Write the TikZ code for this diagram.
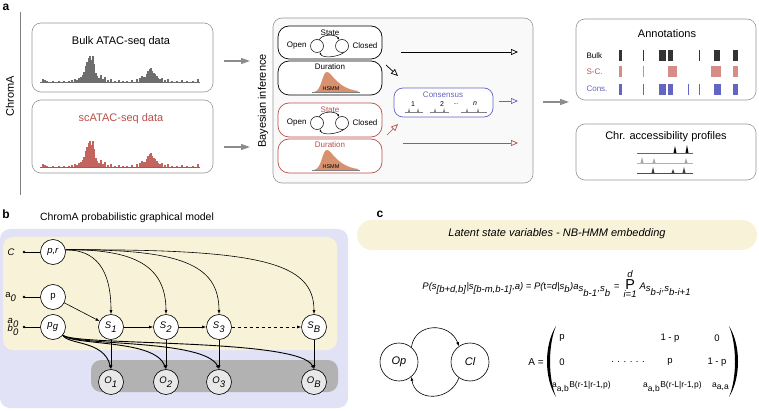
\documentclass[tikz,border=0pt]{standalone}
\usepackage{fontspec}
\setmainfont{Liberation Sans}
\usetikzlibrary{arrows.meta}
\definecolor{boxgray}{RGB}{150,150,150}
\definecolor{arrgray}{RGB}{140,140,140}
\definecolor{redc}{RGB}{185,80,75}
\definecolor{redfill}{RGB}{195,100,95}
\definecolor{bluec}{RGB}{100,100,195}
\definecolor{hsmm}{RGB}{215,145,110}
\definecolor{lav}{RGB}{226,226,246}
\definecolor{cream}{RGB}{248,243,216}
\definecolor{obsbox}{RGB}{178,178,178}
\definecolor{obsnode}{RGB}{232,232,232}
\definecolor{annred}{RGB}{215,140,135}
\definecolor{sigray}{RGB}{110,110,110}
\newcommand{\atacbars}{%
  \foreach \x/\h in {42/3,44/2,46/1,52/1,58/1,63/1,68/1,71/2,74/3,76/2,78/4,80/5,81.5/7,83/10,84.5/16,86/20,87.5/24,89/26,90.5/22,92/26,93.5/18,95/9,96.5/6,98/4,100/7,102/3,104/5,107/2,110/3,114/1,118/2,122/1,126/1,131/2,136/3,139/4,141/6,142.5/5,144/5,145.5/8,147/11,148.5/13,150/14,151.5/11,153/9,154.5/8,156/6,157.5/4,159/3,161/4,164/2,167/3,171/1,176/1,181/2,186/1,192/1,197/3}
  {\fill (\x,0) rectangle ++(1.5,-\h);}%
  \draw[sigray,line width=0.5] (40,0) -- (200,0);}
\newcommand{\hsmmcurve}{%
  \fill[hsmm] (314,0) .. controls (322,-1) and (322,-20) .. (327,-20) .. controls (332,-20) and (336,-4) .. (358,-1) -- (358,0) -- cycle;
  \draw[gray,line width=0.5] (312,0) -- (360,0);}
\begin{document}
\begin{tikzpicture}[x=1pt,y=-1pt,
  panelbox/.style={draw=boxgray,line width=0.6,rounded corners=9,fill=white},
  grayarrow/.style={draw=arrgray,line width=1.3,-{Triangle[length=9,width=6,fill=arrgray]}},
  openarrow/.style={line width=0.7,-{Triangle[open,length=7,width=6]}},
  gnode/.style={circle,draw,line width=0.6,fill=white,minimum size=25,inner sep=0,font=\fontsize{9.5}{11}\selectfont},
  onode/.style={gnode,fill=obsnode},
  edge/.style={line width=0.6,-{Latex[length=4,width=3]}},
  minitip/.style={line width=0.5,-{Latex[length=2.5,width=2]}},
  title/.style={font=\fontsize{11}{13}\selectfont},
  small/.style={font=\fontsize{8}{9}\selectfont},
  plabel/.style={font=\fontsize{12}{14}\selectfont\bfseries},
  minicirc/.style={circle,draw,line width=0.5,minimum size=13,inner sep=0}]
\useasboundingbox (0,0) rectangle (759,411);
% ---------------- panel a
\node[plabel] (la) at (6,7) {a};
\draw[line width=0.5,gray] (20,12) -- (20,195);
\node[title,rotate=90] (chroma) at (10,96) {ChromA};
\draw[panelbox] (32,23) rectangle (213,92);
\node[title] (bulkt) at (121,42) {Bulk ATAC-seq data};
\begin{scope}[shift={(0,82)}]\begin{scope}[sigray]\atacbars\end{scope}\end{scope}
\draw[panelbox] (32,100) rectangle (213,173);
\node[title,text=redc] (sct) at (121,119) {scATAC-seq data};
\begin{scope}[shift={(0,167)}]\begin{scope}[redfill]\atacbars\end{scope}\end{scope}
\coordinate (g1s) at (224,61); \coordinate (g1e) at (250,61);
\coordinate (g2s) at (224,147); \coordinate (g2e) at (250,147);
\draw[grayarrow] (g1s) -- (g1e);
\draw[grayarrow] (g2s) -- (g2e);
% Bayesian box
\draw[draw=boxgray,line width=0.6,rounded corners=9,fill=gray!5] (273,18) rectangle (533,183);
\node[title,rotate=90] (bayes) at (263,101) {Bayesian inference};
% black state/duration
\draw[line width=0.7,rounded corners=11,fill=white] (278,26) rectangle (382,59);
\node[small] (bst) at (330,33) {State};
\node[small,anchor=east] (bop) at (310,46) {Open};
\node[minicirc] (bsL) at (317,46) {};
\node[minicirc] (bsR) at (342,46) {};
\node[small,anchor=west] (bcl) at (349,46) {Closed};
\draw[minitip] (bsL.70) .. controls (322,34) and (336,34) .. (bsR.115);
\draw[minitip] (bsR.-70) .. controls (336,58) and (322,58) .. (bsL.-65);
\draw[line width=0.7,rounded corners=11,fill=white] (278,61) rectangle (382,95);
\node[small] (bdu) at (330,67) {Duration};
\begin{scope}[shift={(0,92)}]\hsmmcurve\end{scope}
\node[font=\fontsize{5.5}{6}\selectfont] (bhs) at (331,89) {HSMM};
% red state/duration
\draw[redc,line width=0.7,rounded corners=11,fill=white] (278,103) rectangle (382,137);
\node[small,text=redc] (rst) at (330,110) {State};
\node[small,anchor=east] (rop) at (310,123) {Open};
\node[minicirc] (rsL) at (317,123) {};
\node[minicirc] (rsR) at (342,123) {};
\node[small,anchor=west] (rcl) at (349,123) {Closed};
\draw[minitip] (rsL.70) .. controls (322,111) and (336,111) .. (rsR.115);
\draw[minitip] (rsR.-70) .. controls (336,135) and (322,135) .. (rsL.-65);
\draw[redc,line width=0.7,rounded corners=11,fill=white] (278,139) rectangle (382,173);
\node[small,text=redc] (rdu) at (330,145) {Duration};
\begin{scope}[shift={(0,170)}]\hsmmcurve\end{scope}
\node[font=\fontsize{5.5}{6}\selectfont] (rhs) at (331,167) {HSMM};
% consensus
\draw[bluec,line width=0.7,rounded corners=9,fill=white] (394,88) rectangle (493,117);
\node[small,text=bluec] (cons) at (443,95) {Consensus};
\node[font=\fontsize{7}{8}\selectfont] (c1) at (413,104) {1};
\node[font=\fontsize{7}{8}\selectfont] (c2) at (442,104) {2};
\node[font=\fontsize{6}{7}\selectfont] (c3) at (456,104) {...};
\node[font=\fontsize{7}{8}\selectfont\itshape] (c4) at (475,104) {n};
\foreach \a/\b in {405/423,430/449,461/487}{\draw[gray,line width=0.5] (\a,112) -- (\b,112);}
\foreach \p in {409,418,435,444,467,478}{\fill[gray] (\p-1,112) -- (\p,108) -- (\p+1,112) -- cycle;}
% inference arrows
\coordinate (ab1) at (401,52); \coordinate (ab2) at (518,52);
\draw[openarrow] (ab1) -- (ab2);
\coordinate (db1) at (386,65); \coordinate (db2) at (398,76);
\draw[openarrow] (db1) -- (db2);
\coordinate (bl1) at (499,101); \coordinate (bl2) at (518,101);
\draw[openarrow,bluec] (bl1) -- (bl2);
\coordinate (dr1) at (387,135); \coordinate (dr2) at (398,124);
\draw[openarrow,redc] (dr1) -- (dr2);
\coordinate (rl1) at (403,143); \coordinate (rl2) at (518,143);
\draw[openarrow,redc] (rl1) -- (rl2);
\coordinate (g3s) at (543,102); \coordinate (g3e) at (569,102);
\draw[grayarrow] (g3s) -- (g3e);
% annotations
\draw[panelbox] (576,19) rectangle (756,100);
\node[title] (annt) at (667,34) {Annotations};
\node[small,anchor=west] (anb) at (583,56) {Bulk};
\node[small,anchor=west,text=redc] (ans) at (583,72) {S-C.};
\node[small,anchor=west,text=bluec] (anc) at (583,89) {Cons.};
\foreach \a/\b in {619/622,643/644,659/666,668/673,699/700,714/720,733/738}{\fill[black!80] (\a,50) rectangle (\b,61);}
\foreach \a/\b in {619/622,643/644,668/677,711/721,733/738}{\fill[annred] (\a,66) rectangle (\b,77);}
\foreach \a/\b in {619/622,643/644,659/666,668/673,688/689,699/700,714/721,733/738}{\fill[bluec] (\a,84) rectangle (\b,95);}
% profiles
\draw[panelbox] (576,124) rectangle (756,180);
\node[title] (chrt) at (666,137) {Chr. accessibility profiles};
\draw[black!60,line width=0.5] (637,153) -- (693,153);
\draw[black!30,line width=0.5] (637,163) -- (693,163);
\draw[black!70,line width=0.5] (637,173) -- (693,173);
\foreach \p/\h in {675/7,687/8}{\fill[black] (\p-1.5,153) -- (\p,153-\h) -- (\p+1.5,153) -- cycle;}
\foreach \p/\h in {642/6,654/5,686/5}{\fill[black!35] (\p-1.5,163) -- (\p,163-\h) -- (\p+1.5,163) -- cycle;}
\foreach \p/\h in {653/6,673/4,684/6}{\fill[black!75] (\p-1.5,173) -- (\p,173-\h) -- (\p+1.5,173) -- cycle;}
% ---------------- panel b
\node[plabel] (lb) at (6,214) {b};
\node[font=\fontsize{10.5}{12}\selectfont] (btitle) at (127,218) {ChromA probabilistic graphical model};
\fill[lav,rounded corners=10] (0,229) rectangle (348,408);
\fill[cream,rounded corners=10] (3,237) rectangle (337,350);
\fill[obsbox,rounded corners=10] (91,360) rectangle (338,392);
\node[gnode] (pr) at (53,252) {\textit{p,r}};
\node[gnode] (pp) at (53,297) {p};
\node[gnode] (pg) at (53,327) {$\textit{p}_{\textit{g}}$};
\node[gnode] (S1) at (111,327) {$\textit{S}_{\textit{1}}$};
\node[gnode] (S2) at (166,327) {$\textit{S}_{\textit{2}}$};
\node[gnode] (S3) at (219,327) {$\textit{S}_{\textit{3}}$};
\node[gnode] (SB) at (314,327) {$\textit{S}_{\textit{B}}$};
\node[onode] (O1) at (111,382) {$\textit{O}_{\textit{1}}$};
\node[onode] (O2) at (166,382) {$\textit{O}_{\textit{2}}$};
\node[onode] (O3) at (219,382) {$\textit{O}_{\textit{3}}$};
\node[onode] (OB) at (314,382) {$\textit{O}_{\textit{B}}$};
\node[font=\fontsize{9.5}{11}\selectfont\itshape,anchor=east] (lC) at (18,252) {C};
\node[font=\fontsize{9.5}{11}\selectfont,anchor=east] (la0) at (20,297) {a$_{\textit{0}}$};
\node[font=\fontsize{9.5}{11}\selectfont\itshape,anchor=east,align=left,inner sep=0] (lab) at (19,327) {a$_{\textit{0}}$\\[-3pt]b$_{\textit{0}}$};
\coordinate (dC) at (24,252); \coordinate (da) at (24,297); \coordinate (dab) at (24,327);
\foreach \d in {dC,da,dab}{\fill (\d) circle (1.3);}
\draw[line width=0.6] (dC) -- (pr);
\draw[line width=0.6] (da) -- (pp);
\draw[line width=0.6] (dab) -- (pg);
\draw[edge] (pr.10) .. controls (95,250) and (111,268) .. (S1.north);
\draw[edge] (pr.10) .. controls (135,249) and (166,266) .. (S2.north);
\draw[edge] (pr.10) .. controls (180,249) and (219,264) .. (S3.north);
\draw[edge] (pr.10) .. controls (260,249) and (314,262) .. (SB.north);
\draw[edge] (pp) -- (S1);
\draw[edge] (S1) -- (S2);
\draw[edge] (S2) -- (S3);
\draw[edge,dashed] (S3) -- (SB);
\foreach \i in {1,2,3,B}{\draw[edge] (S\i) -- (O\i);}
\draw[edge,line width=0.9] (pg.-40) .. controls (68,345) and (104,340) .. (O1.north);
\draw[edge,line width=0.9] (pg.-40) .. controls (75,346) and (155,339) .. (O2.north);
\draw[edge,line width=0.9] (pg.-40) .. controls (75,346) and (205,339) .. (O3.north);
\draw[edge,line width=0.9] (pg.-40) .. controls (75,346) and (300,338) .. (OB.north);
% ---------------- panel c
\node[plabel] (lc) at (380,214) {c};
\fill[cream,rounded corners=15] (357,220) rectangle (757,250);
\node[font=\fontsize{11}{13}\selectfont\itshape] (latent) at (557,234) {Latent state variables - NB-HMM embedding};
\node[font=\fontsize{9.5}{11}\selectfont] (eq) at (557,284) {$\textit{P(s}_{\textit{[b+d,b]}}\textit{|s}_{\textit{[b-m,b-1]}}\textit{,a) = P(}\textup{t}\textit{=d|s}_{\textit{b}}\textit{)a}_{\textit{s}_{\textit{b-1}}\textit{,s}_{\textit{b}}}\textit{ = }\mathop{\textup{\Large P}}\limits^{\textit{d}}_{\textit{i=1}}\,\textit{A}_{\textit{s}_{\textit{b-i}}\textit{,s}_{\textit{b-i+1}}}$};
% Op Cl
\node[circle,draw,line width=0.6,minimum size=38,inner sep=0,font=\fontsize{11}{13}\selectfont\itshape] (Op) at (399,362) {Op};
\node[circle,draw,line width=0.6,minimum size=38,inner sep=0,font=\fontsize{11}{13}\selectfont\itshape] (Cl) at (470,362) {Cl};
\draw[edge] (Op.50) .. controls (415,322) and (450,322) .. (Cl.125);
\draw[edge] (Cl.-125) .. controls (450,402) and (415,402) .. (Op.-50);
% matrix
\node[font=\fontsize{10}{12}\selectfont] (Aeq) at (536,362) {A =};
\fill (556,326) .. controls (544,345) and (544,378) .. (556,397) .. controls (548,378) and (548,345) .. cycle;
\fill (729,326) .. controls (741,345) and (741,378) .. (729,397) .. controls (737,378) and (737,345) .. cycle;
\begin{scope}[every node/.style={font=\fontsize{9.5}{11}\selectfont}]
\node (m11) at (562,338) {p};
\node (m13) at (670,338) {1 - p};
\node (m14) at (717,338) {0};
\node (m21) at (562,362) {0};
\node (m22) at (628,362) {. . . . . .};
\node (m23) at (670,362) {p};
\node (m24) at (717,362) {1 - p};
\end{scope}
\begin{scope}[every node/.style={font=\fontsize{8.5}{10}\selectfont,inner sep=0}]
\node[anchor=west] (m31) at (552,387) {a$_{\textrm{a,b}}$B(r-1|r-1,p)};
\node[anchor=west] (m33) at (643,387) {a$_{\textrm{a,b}}$B(r-L|r-1,p)};
\node[anchor=west] (m34) at (712,387) {a$_{\textrm{a,a}}$};
\end{scope}
\end{tikzpicture}
\end{document}
